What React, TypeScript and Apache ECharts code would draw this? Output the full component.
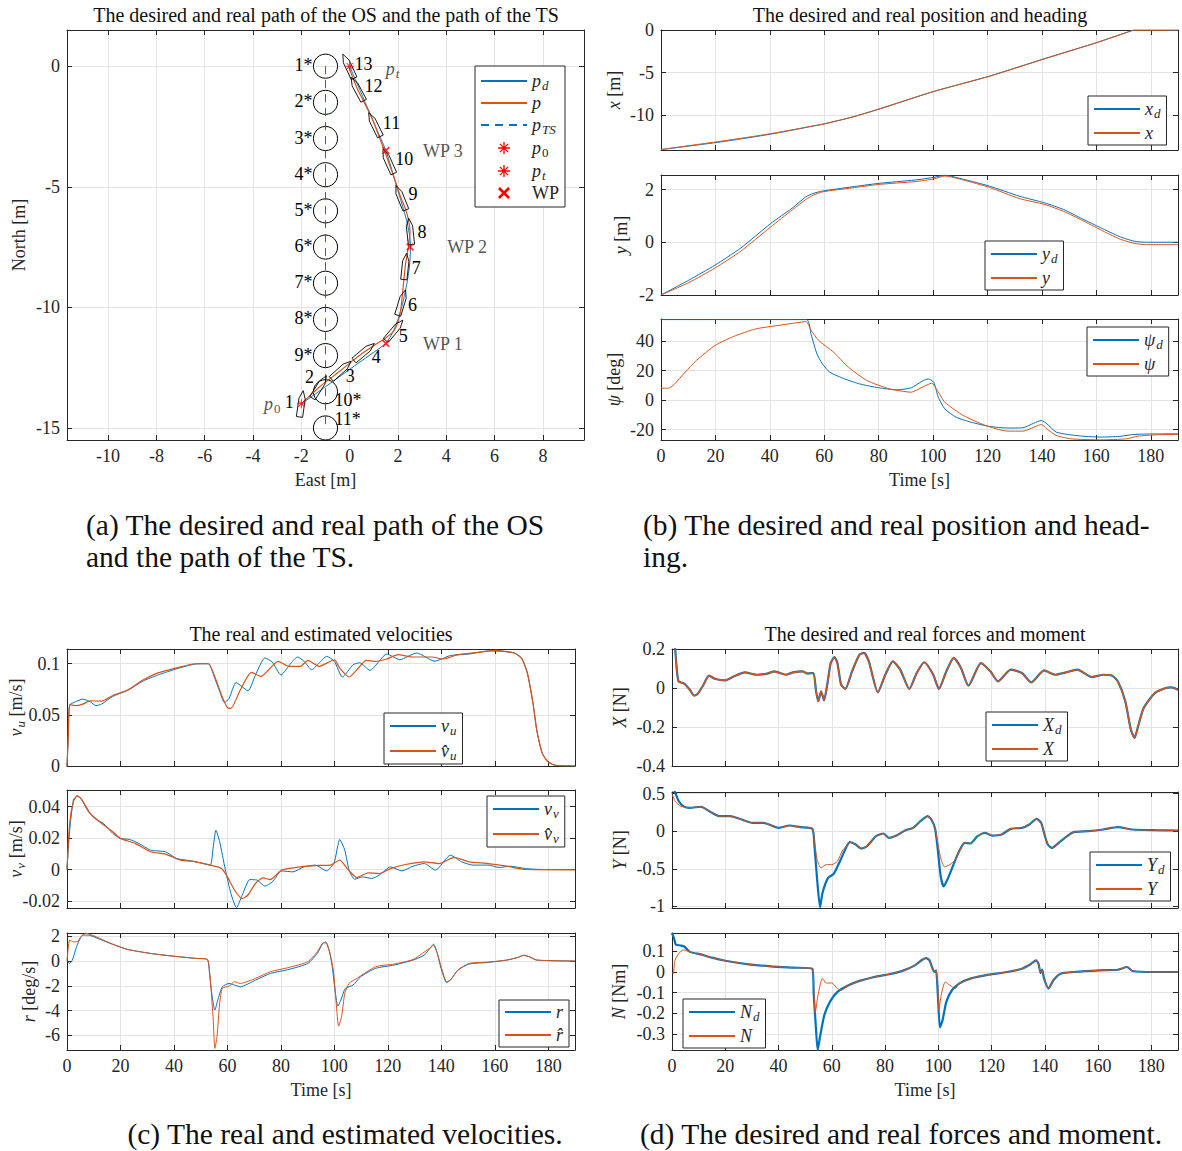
import React, { useEffect, useRef } from "react";
import * as echarts from "echarts";

const FONT = '"Liberation Serif", "DejaVu Serif", serif';
const BLUE = "#0072BD";
const ORANGE = "#D95319";
const RED = "#FF0000";
const INK = "#262626";
const GRID_COLOR = "#E3E3E3";

// ---------- (a) horizontal path: [east, north] in metres ----------
const pathDesired: [number, number][] = [
  [-2.0, -14.0], [-1.0, -13.29], [0.0, -12.57], [1.0, -11.86], [1.5, -11.5],
  [1.8, -11.0], [2.0, -10.5], [2.15, -10.0], [2.27, -9.5], [2.37, -9.0],
  [2.45, -8.5], [2.5, -8.0], [2.52, -7.5], [2.48, -7.0], [2.38, -6.5],
  [2.25, -6.0], [2.1, -5.5], [1.95, -5.0], [1.8, -4.5], [1.66, -4.0],
  [1.5, -3.5], [1.29, -3.0], [1.07, -2.5], [0.86, -2.0], [0.64, -1.5],
  [0.43, -1.0], [0.21, -0.5], [0.0, 0.0],
];
const pathReal: [number, number][] = [
  [-2.0, -14.0], [-1.6, -13.62], [-1.25, -13.3], [-0.8, -12.95], [-0.35, -12.6],
  [0.1, -12.23], [0.6, -11.85], [1.05, -11.55], [1.45, -11.3], [1.7, -11.1],
  [1.85, -10.95], [2.0, -10.6], [2.1, -10.2], [2.15, -9.8], [2.2, -9.3],
  [2.25, -8.8], [2.3, -8.3], [2.38, -7.8], [2.46, -7.3], [2.5, -6.85],
  [2.44, -6.4], [2.32, -5.95], [2.12, -5.45], [1.95, -4.95], [1.78, -4.45],
  [1.6, -3.95], [1.42, -3.45], [1.22, -2.93], [1.03, -2.42], [0.8, -1.9],
  [0.56, -1.42], [0.32, -0.95], [0.12, -0.45], [-0.02, -0.08], [-0.05, 0.0],
];
const targetTrack: [number, number][] = [[-1, 0], [-1, -15]];
const targetPositions: [number, number][] = [
  [-1, 0], [-1, -1.5], [-1, -3], [-1, -4.5], [-1, -6], [-1, -7.5],
  [-1, -9], [-1, -10.5], [-1, -12], [-1, -13.5], [-1, -15],
];
const TARGET_RADIUS = 0.5;
const startPoint: [number, number][] = [[-2, -14]];
const targetPoint: [number, number][] = [[0, 0]];
const waypoints = [
  { name: "WP 1", value: [1.5, -11.5] },
  { name: "WP 2", value: [2.5, -7.5] },
  { name: "WP 3", value: [1.5, -3.5] },
];
// own-ship snapshots: [east, north, heading deg]
const shipPoses: [number, number, number][] = [
  [-2.0, -14.0, 8], [-1.25, -13.3, 32], [-0.35, -12.6, 48], [0.6, -11.85, 50],
  [1.85, -10.95, 40], [2.15, -9.8, 17], [2.3, -8.3, 6], [2.5, -6.85, -6],
  [2.12, -5.45, -22], [1.6, -3.95, -24], [1.03, -2.42, -26], [0.32, -0.95, -28],
  [-0.05, 0.0, -25],
];

// ---------- (b) position and heading vs time ----------
const northDesired: [number, number][] = [
  [0, -14], [10, -13.6], [19.8, -13.2], [30, -12.72], [40.2, -12.2], [50, -11.62],
  [55, -11.3], [60, -11.0], [70.2, -10.2], [79.8, -9.3], [100.2, -7.2],
  [120.7, -5.4], [141, -3.35], [160.2, -1.46], [171.1, -0.28], [174, 0], [190, 0],
];
const northReal: [number, number][] = [
  [0, -14], [10, -13.55], [19.8, -13.12], [30, -12.65], [40.2, -12.14], [50, -11.58],
  [55, -11.28], [60, -10.98], [70.2, -10.2], [79.8, -9.28], [100.2, -7.2],
  [120.7, -5.42], [141, -3.37], [160.2, -1.48], [171.1, -0.3], [174, -0.02], [190, -0.02],
];
const eastDesired: [number, number][] = [
  [0, -2], [10.2, -1.44], [19.8, -0.87], [29.3, -0.22], [40.2, 0.7], [48.4, 1.31],
  [53.2, 1.72], [55.9, 1.85], [59.3, 1.94], [70.2, 2.1], [79.8, 2.23], [93.4, 2.36],
  [100.2, 2.46], [104.3, 2.54], [111.1, 2.39], [120.7, 2.13], [131.6, 1.75],
  [141.1, 1.49], [148, 1.24], [154.8, 0.89], [161.6, 0.55], [168.4, 0.22],
  [173.9, 0.04], [178, 0], [190, 0],
];
const eastReal: [number, number][] = [
  [0, -2], [10.2, -1.53], [19.8, -0.98], [29.3, -0.34], [40.2, 0.57], [48.4, 1.24],
  [53.2, 1.62], [55.9, 1.78], [59.3, 1.91], [70.2, 2.06], [79.8, 2.19], [93.4, 2.3],
  [100.2, 2.4], [104.3, 2.51], [111.1, 2.36], [120.7, 2.08], [131.6, 1.66],
  [141.1, 1.43], [148, 1.17], [154.8, 0.83], [161.6, 0.47], [168.4, 0.13],
  [173.9, -0.04], [178, -0.09], [190, -0.09],
];
const headingDesired: [number, number][] = [
  [0, 54.6], [53.5, 54.6], [55.2, 44.3], [57.3, 31.4], [59.3, 24.6], [62, 19],
  [67.5, 14.4], [73, 11], [80, 8.4], [86.6, 7], [92, 8.4], [96, 12.9], [98.2, 14.4],
  [100.2, 12.2], [101.9, 2], [104.3, -5.9], [108.4, -11.5], [113.9, -14.9],
  [120.7, -17.8], [127.5, -18.9], [133, -18.7], [137, -15.6], [139.8, -13.8],
  [141.8, -16], [145.2, -21.6], [149.3, -23.2], [154.8, -24.4], [161.6, -25],
  [168.4, -24.6], [172.5, -23.5], [176.6, -23], [190, -22.8],
];
const headingReal: [number, number][] = [
  [0, 8.1], [2.7, 8.1], [4.8, 10.6], [8.9, 19], [13, 26.9], [19.8, 37], [26.6, 43.1],
  [34.8, 48.3], [43, 50.6], [51.1, 52.8], [53.3, 53.3], [55.2, 47.2], [58, 40.4],
  [63.4, 32.5], [68.9, 22.3], [75.7, 13.3], [83.9, 7.7], [92, 5.4], [96, 8.8],
  [99.5, 11.5], [101.6, 6.5], [104.3, -1.4], [111.1, -10.4], [119.3, -17.2],
  [127.5, -21], [133, -21], [137.7, -17.8], [139.8, -16.5], [141.8, -19.4],
  [145.2, -23.9], [150.7, -26.2], [161.6, -26.9], [171.1, -26.2], [175.2, -24.4],
  [182, -23.5], [190, -23.2],
];

// ---------- (c) velocities ----------
const surgeReal: [number, number][] = [
  [0, 0], [0.5, 0.03], [1, 0.0595], [3.1, 0.0627], [5.9, 0.0654], [8.7, 0.0627],
  [10.8, 0.059], [12.9, 0.0605], [17.1, 0.068], [22.7, 0.074], [28.4, 0.083],
  [34, 0.089], [41, 0.095], [48, 0.0997], [52.9, 0.1], [55, 0.0876], [57.1, 0.073],
  [58.9, 0.0619], [60.6, 0.066], [63.2, 0.0816], [65.5, 0.0776], [67.7, 0.0734],
  [70.5, 0.089], [74, 0.1056], [76.8, 0.1016], [80, 0.089], [83.8, 0.1007],
  [86.2, 0.1066], [88.7, 0.1023], [91.5, 0.0941], [94.3, 0.1007], [97.1, 0.1072],
  [100, 0.1023], [103, 0.087], [107, 0.099], [109.5, 0.101], [113.3, 0.0935],
  [119.6, 0.1095], [124.5, 0.104], [130.8, 0.1105], [137.5, 0.1025], [143.4, 0.108],
  [150.5, 0.1095], [157.5, 0.1125], [163.1, 0.112], [167.3, 0.1105], [170.1, 0.1056],
  [172.2, 0.0907], [174.3, 0.0612], [175.7, 0.035], [177.8, 0.0121], [180, 0.0039],
  [182.7, 0.0007], [190, 0],
];
const surgeEst: [number, number][] = [
  [0, 0], [0.5, 0.03], [1, 0.06], [3.1, 0.059], [5.9, 0.0605], [8.7, 0.0637],
  [12.9, 0.0634], [17.1, 0.069], [22.7, 0.0743], [28.4, 0.084], [34, 0.091],
  [41, 0.096], [48, 0.1], [52.9, 0.1], [55.7, 0.0844], [57.8, 0.0694], [59.9, 0.0573],
  [61.3, 0.0563], [64.8, 0.0743], [69, 0.0915], [72.6, 0.0876], [75.4, 0.0941],
  [78.9, 0.1023], [83.1, 0.0974], [87.3, 0.0974], [90.1, 0.1033], [94.3, 0.0974],
  [100, 0.1039], [102, 0.0957], [105.5, 0.087], [108.4, 0.094], [111.9, 0.1033],
  [115.4, 0.1023], [119.6, 0.1046], [123.8, 0.1089], [129.4, 0.1066], [136.4, 0.1066],
  [140.6, 0.1046], [146.2, 0.1089], [154.7, 0.1114], [160.3, 0.113], [167.3, 0.1105],
  [170.1, 0.1046], [172.2, 0.0907], [174.3, 0.0612], [175.7, 0.035], [177.8, 0.0121],
  [180, 0.0039], [182.7, 0.0007], [190, 0],
];
const swayReal: [number, number][] = [
  [0, 0], [1, 0.025], [2.4, 0.0443], [3.8, 0.0468], [5.2, 0.0453], [8, 0.0368],
  [10.8, 0.0319], [13.6, 0.0294], [17.1, 0.023], [19.9, 0.0198], [23.4, 0.0191],
  [26.9, 0.0166], [31.2, 0.0123], [36.8, 0.0113], [41, 0.007], [46.6, 0.0055],
  [50.8, 0.0038], [53.6, 0.0028], [54.7, 0.0145], [55.7, 0.025], [57.1, 0.0177],
  [59.2, 0], [61.3, -0.0153], [63.4, -0.0243], [65.5, -0.0164], [68.4, -0.0064],
  [71.2, -0.0068], [74, -0.0106], [76.8, -0.0079], [80.3, -0.0009], [84.5, -0.0015],
  [88.7, 0.0017], [92.9, 0.0028], [97.1, -0.0009], [99.9, 0.0043], [102, 0.0191],
  [103.9, 0.0123], [105.5, -0.0004], [107.6, -0.0062], [110.5, -0.0047], [114, -0.0057],
  [116.8, -0.0036], [121, 0.0017], [125.2, -0.0009], [129.4, 0.0021], [133.6, 0.0038],
  [137.8, -0.0004], [143.4, 0.0091], [147.6, 0.0049], [151.8, 0.0028], [157.5, 0.0028],
  [161.7, 0.0013], [165.9, 0.0021], [171.5, 0.0006], [178.5, 0], [190, 0],
];
const swayEst: [number, number][] = [
  [0, 0], [1, 0.0294], [2.4, 0.0432], [3.8, 0.0468], [5.2, 0.0453], [8.7, 0.0357],
  [12.9, 0.0294], [17.1, 0.024], [19.9, 0.0198], [25.5, 0.0166], [31.2, 0.0113],
  [36.8, 0.0098], [42.4, 0.006], [48, 0.0049], [53.6, 0.0028], [57.8, 0.0006],
  [60, -0.0047], [62.7, -0.0132], [65.5, -0.0185], [67.6, -0.0164], [70.5, -0.0089],
  [73.3, -0.0053], [76, -0.0064], [80.3, -0.0004], [87.3, 0.0017], [94.3, 0.0026],
  [98.5, 0.0028], [102, 0.006], [104.8, 0.0006], [108.4, -0.0051], [112.6, -0.0021],
  [116.8, -0.0026], [121, 0.0006], [126.6, 0.0032], [133.6, 0.0049], [139.2, 0.0038],
  [144.8, 0.0077], [150.4, 0.0049], [157.5, 0.0038], [164.5, 0.0021], [171.5, 0],
  [190, -0.0002],
];
const yawRateReal: [number, number][] = [
  [0, 0], [1, -0.19], [2, 0.08], [3.8, 1.29], [5.9, 2.1], [8, 2.1], [11.5, 1.83],
  [17.1, 1.35], [22.7, 0.94], [31.2, 0.62], [39.6, 0.4], [48, 0.22], [52.5, 0.13],
  [53.3, -1.0], [54.3, -2.88], [55.3, -3.96], [56.4, -3.15], [58.1, -2.08],
  [60.6, -1.81], [62.7, -1.94], [64.8, -2.08], [70.5, -1.54], [76.1, -1.0],
  [83.1, -0.67], [90.1, -0.19], [93.6, 0.62], [95.7, 1.43], [96.8, 1.54], [98.2, 0.75],
  [99.2, -0.46], [100.4, -2.61], [101.3, -3.64], [102.7, -3.0], [104.1, -2.21],
  [107, -1.94], [109.8, -1.27], [115.4, -0.59], [122.4, -0.32], [129.4, 0.08],
  [133.6, 0.48], [136.4, 1.21], [137.1, 1.37], [138.5, 0.62], [139.9, -0.59],
  [142, -1.75], [143.4, -1.54], [146.2, -0.73], [150.4, -0.24], [157.5, -0.11],
  [164.5, 0.08], [168.7, 0.3], [170.8, 0.48], [172.9, 0.35], [175.7, 0.08], [190, 0],
];
const yawRateEst: [number, number][] = [
  [0, 0], [1, 1.7], [2.4, 1.56], [3.8, 1.56], [5.2, 1.97], [7, 2.25], [9.4, 2.1],
  [17.1, 1.37], [22.7, 0.94], [31.2, 0.62], [39.6, 0.4], [48, 0.22], [52.5, 0.13],
  [53.6, -1.54], [54.7, -4.77], [55.3, -7.06], [56.1, -6.12], [57.1, -3.42],
  [58.1, -2.21], [60.6, -2.02], [62.7, -1.67], [64.8, -1.81], [70.5, -1.4],
  [76.1, -0.86], [83.1, -0.51], [90.1, -0.05], [93.6, 0.75], [95.9, 1.48], [97.1, 1.43],
  [98.5, 0.48], [99.6, -0.73], [100.7, -3.42], [101.6, -5.26], [102.7, -4.5],
  [103.9, -2.61], [105.5, -1.81], [108.4, -1.4], [115.4, -0.46], [122.4, -0.24],
  [129.4, 0.13], [136.4, 1.16], [137.1, 1.32], [138.5, 0.62], [140.3, -0.73],
  [142, -1.67], [143.4, -1.54], [146.2, -0.73], [150.4, -0.19], [157.5, -0.08],
  [164.5, 0.08], [168.7, 0.3], [170.8, 0.45], [172.9, 0.35], [175.7, 0.08], [190, 0],
];

// ---------- (d) forces and moment ----------
const surgeForce: [number, number][] = [
  [0, 0.35], [1.2, 0.2], [1.8, 0.094], [2.5, 0.034], [4.6, 0.022], [6.7, -0.009],
  [8.3, -0.039], [9.7, -0.029], [11.5, 0.009], [13.9, 0.063], [16.4, 0.046],
  [19.8, 0.039], [23.3, 0.06], [27.4, 0.08], [31.6, 0.068], [35.8, 0.074],
  [38.5, 0.085], [42.7, 0.068], [45.5, 0.08], [48.9, 0.085], [51, 0.074], [53.1, 0.077],
  [54.1, -0.017], [54.9, -0.068], [56, -0.017], [57.1, -0.063], [58.2, 0.009],
  [59.6, 0.128], [61, 0.159], [62.1, 0.128], [63.5, 0.017], [65.1, -0.005],
  [67.6, 0.085], [70.4, 0.171], [72.1, 0.18], [73.9, 0.137], [77.3, -0.022],
  [80.1, 0.068], [82.9, 0.137], [85.7, 0.094], [89.1, -0.005], [91.9, 0.077],
  [94.7, 0.132], [98.1, 0.068], [100.2, -0.005], [103, 0.085], [105.8, 0.154],
  [108.5, 0.103], [111.3, 0.012], [116, 0.128], [119.6, 0.085], [122.4, 0.034],
  [127.2, 0.094], [131.4, 0.077], [134.9, 0.029], [139.7, 0.09], [143.9, 0.068],
  [148, 0.08], [152.2, 0.094], [157.7, 0.056], [161.9, 0.068], [165.3, 0.063],
  [167.4, 0.034], [170.2, -0.068], [172.3, -0.214], [173.7, -0.256], [175, -0.197],
  [177.1, -0.103], [181.3, -0.026], [185.4, 0], [187.5, 0.003], [190, -0.009],
];
const swayForceDesired: [number, number][] = [
  [0, 0.6], [1.1, 0.52], [2.5, 0.4], [4.2, 0.333], [6.7, 0.31], [10.8, 0.324],
  [15, 0.244], [17.7, 0.2], [21.9, 0.2], [26.1, 0.155], [30.2, 0.111], [34.4, 0.111],
  [39.9, 0.044], [44.1, 0.075], [48.2, 0.053], [52.7, 0.031], [53.5, -0.2],
  [54.5, -0.644], [55.6, -1.01], [56.5, -0.82], [58.6, -0.62], [60.7, -0.568],
  [62.8, -0.42], [65.6, -0.2], [66.9, -0.146], [69, -0.178], [71.1, -0.23],
  [73.2, -0.2], [76.6, -0.067], [79.4, -0.031], [81.5, -0.089], [84.3, -0.058],
  [87.7, 0.013], [90.5, 0.044], [93.3, 0.133], [96, 0.2], [97.4, 0.155], [98.8, 0.031],
  [99.8, -0.244], [100.9, -0.6], [102, -0.732], [103.7, -0.62], [105.7, -0.444],
  [107.8, -0.267], [109.9, -0.155], [112, -0.164], [114.7, -0.067], [117.5, -0.022],
  [120.3, -0.058], [123.8, -0.044], [127.2, 0.031], [131.4, 0.044], [134.2, 0.089],
  [136.9, 0.164], [138.6, 0.111], [139.7, -0.022], [141.1, -0.178], [142.7, -0.222],
  [145.2, -0.155], [148, -0.075], [150.8, -0.013], [156.3, 0], [161.9, 0.022],
  [167.4, 0.053], [172.9, 0.022], [181.3, 0.013], [190, 0.009],
];
const swayForceReal: [number, number][] = [
  [0, 0.5], [1.1, 0.4], [3.2, 0.333], [6.7, 0.31], [10.8, 0.324],
  [15, 0.244], [17.7, 0.2], [21.9, 0.2], [26.1, 0.155], [30.2, 0.111], [34.4, 0.111],
  [39.9, 0.044], [44.1, 0.075], [48.2, 0.053], [52.7, 0.031], [53.5, -0.133],
  [54.5, -0.377], [55.9, -0.488], [57.9, -0.444], [60, -0.444], [62.1, -0.4],
  [64.2, -0.244], [65.6, -0.2], [66.9, -0.146], [69, -0.178], [71.1, -0.23],
  [73.2, -0.2], [76.6, -0.067], [79.4, -0.031], [81.5, -0.089], [84.3, -0.058],
  [87.7, 0.013], [90.5, 0.044], [93.3, 0.133], [96, 0.2], [97.4, 0.155], [98.8, 0.031],
  [99.8, -0.155], [100.9, -0.355], [102.3, -0.475], [104.4, -0.444], [106.4, -0.377],
  [107.8, -0.267], [109.9, -0.155], [112, -0.164], [114.7, -0.067], [117.5, -0.022],
  [120.3, -0.058], [123.8, -0.044], [127.2, 0.031], [131.4, 0.044], [134.2, 0.089],
  [136.9, 0.164], [138.6, 0.111], [139.7, -0.022], [141.1, -0.178], [142.7, -0.222],
  [145.2, -0.155], [148, -0.075], [150.8, -0.013], [156.3, 0], [161.9, 0.022],
  [167.4, 0.053], [172.9, 0.022], [181.3, 0.013], [190, 0.009],
];
const yawMomentDesired: [number, number][] = [
  [0, 0.187], [0.8, 0.16], [1.4, 0.133], [3.2, 0.128], [4.6, 0.123], [6.7, 0.097],
  [10.8, 0.085], [15, 0.069], [20.5, 0.053], [28.8, 0.037], [37.1, 0.027],
  [45.5, 0.021], [52.7, 0.016], [53.2, -0.104], [54.1, -0.28], [54.7, -0.376],
  [55.7, -0.304], [57.2, -0.208], [59.3, -0.144], [62.1, -0.096], [66.3, -0.064],
  [70.4, -0.043], [75.9, -0.024], [81.5, -0.011], [87, 0.008], [91.2, 0.032],
  [94, 0.059], [95.4, 0.067], [96.7, 0.056], [98.1, 0.008], [98.8, 0], [99.2, 0.008],
  [99.8, -0.104], [100.6, -0.267], [101.6, -0.232], [103, -0.144], [105.1, -0.088],
  [107.8, -0.056], [112, -0.032], [118.9, -0.013], [125.8, 0], [131.4, 0.016],
  [134.9, 0.04], [136.7, 0.056], [137.6, 0.04], [138.4, -0.005], [139, 0.011],
  [139.7, -0.032], [141.4, -0.08], [143.2, -0.04], [145.9, -0.008], [150.8, 0],
  [160.5, 0.008], [167.4, 0.011], [170.9, 0.024], [172.9, 0.005], [181.3, 0], [190, 0],
];
const yawMomentReal: [number, number][] = [
  [0, 0], [0.5, -0.008], [1.1, 0.056], [2.5, 0.088], [4.2, 0.107], [6, 0.101],
  [8, 0.091], [10.8, 0.085], [15, 0.069], [20.5, 0.053], [28.8, 0.037], [37.1, 0.027],
  [45.5, 0.021], [52.7, 0.016], [53.2, -0.072], [53.8, -0.197], [54.7, -0.12],
  [55.9, -0.048], [56.5, -0.032], [57.9, -0.053], [60, -0.053], [62.1, -0.08],
  [63.5, -0.088], [66.3, -0.064], [70.4, -0.043], [75.9, -0.024], [81.5, -0.011],
  [87, 0.008], [91.2, 0.032], [94, 0.059], [95.4, 0.067], [96.7, 0.056], [98.1, 0.008],
  [98.8, 0], [99.2, 0.008], [99.8, -0.072], [100.2, -0.181], [101.2, -0.104],
  [102.6, -0.048], [104.4, -0.064], [106.4, -0.08], [107.8, -0.056], [112, -0.032],
  [118.9, -0.013], [125.8, 0], [131.4, 0.016], [134.9, 0.04], [136.7, 0.056],
  [137.6, 0.04], [138.4, -0.005], [139, 0.011], [139.7, -0.032], [141.4, -0.08],
  [143.2, -0.04], [145.9, -0.008], [150.8, 0], [160.5, 0.008], [167.4, 0.011],
  [170.9, 0.024], [172.9, 0.005], [181.3, 0], [190, 0],
];

// ---------- tick values ----------
const TIME_TICKS = [0, 20, 40, 60, 80, 100, 120, 140, 160, 180];
const EAST_TICKS = [-10, -8, -6, -4, -2, 0, 2, 4, 6, 8];
const NORTH_TICKS = [-15, -10, -5, 0];
const X_POS_TICKS = [-10, -5, 0];
const Y_POS_TICKS = [-2, 0, 2];
const HEADING_TICKS = [-20, 0, 20, 40];
const SURGE_TICKS = [0, 0.05, 0.1];
const SWAY_TICKS = [-0.02, 0, 0.02, 0.04];
const YAWRATE_TICKS = [-6, -4, -2, 0, 2];
const XFORCE_TICKS = [-0.4, -0.2, 0, 0.2];
const YFORCE_TICKS = [-1, -0.5, 0, 0.5];
const NMOMENT_TICKS = [-0.3, -0.2, -0.1, 0, 0.1];

// ---------- drawing helpers ----------
const SHIP_OUTLINE: [number, number][] = [
  [-0.55, -0.13], [0.22, -0.13], [0.55, 0], [0.22, 0.13], [-0.55, 0.13],
];
const SHIP_LABEL_OFFSET: [number, number][] = [
  [-12, -2], [-10, -10], [9, 6], [12, 5], [9, 6], [11, 2], [11, 2], [12, 1],
  [12, -4], [16, -2], [17, -2], [16, -3], [15, -2],
];
const TARGET_LABEL_PLACE = [
  ...Array.from({ length: 9 }, () => ({ align: "right", dx: -13, dy: -1 })),
  { align: "left", dx: 9, dy: 8 },
  { align: "left", dx: 9, dy: -9 },
];

const ASTERISK =
  "path://M4.45,0H5.55V10H4.45Z M0,4.45H10V5.55H0Z M1.2,1.95L1.95,1.2L8.8,8.05L8.05,8.8Z M8.05,1.2L8.8,1.95L1.95,8.8L1.2,8.05Z";
const CROSS =
  "path://M0,1.6L1.6,0L10,8.4L8.4,10Z M8.4,0L10,1.6L1.6,10L0,8.4Z";

const RICH: any = {
  i: { fontFamily: FONT, fontStyle: "italic", fontSize: 18, lineHeight: 20, color: INK },
  r: { fontFamily: FONT, fontSize: 18, lineHeight: 20, color: INK },
  s: { fontFamily: FONT, fontStyle: "italic", fontSize: 13, lineHeight: 20, color: INK, padding: [9, 0, 0, 1] },
  u: { fontFamily: FONT, fontSize: 13, lineHeight: 20, color: INK, padding: [9, 0, 0, 1] },
};

const LEGEND_TEXT: Record<string, string> = {
  pd: "{i|p}{s|d}", p: "{i|p}", pTS: "{i|p}{s|TS}", p0: "{i|p}{u|0}", pt: "{i|p}{s|t}", WP: "{r|WP}",
  xd: "{i|x}{s|d}", x: "{i|x}", yd: "{i|y}{s|d}", y: "{i|y}", psid: "{i|ψ}{s|d}", psi: "{i|ψ}",
  vu: "{i|v}{s|u}", vuh: "{i|v\u0302}{s|u}", vv: "{i|v}{s|v}", vvh: "{i|v\u0302}{s|v}",
  r: "{i|r}", rh: "{i|r\u0302}",
  Xd: "{i|X}{s|d}", X: "{i|X}", Yd: "{i|Y}{s|d}", Y: "{i|Y}", Nd: "{i|N}{s|d}", N: "{i|N}",
};
// legend entries drawn with their series marker (the rest show only the line)
const MARKER_ENTRIES = new Set(["p0", "pt", "WP"]);

const fmt = (v: number) => String(+(+v).toFixed(6));

function buildOption() {
  const grid: any[] = [];
  const xAxis: any[] = [];
  const yAxis: any[] = [];
  const series: any[] = [];
  const legend: any[] = [];
  const graphic: any[] = [];

  const axisText = { color: INK, fontFamily: FONT, fontSize: 18, lineHeight: 20, rich: RICH };

  const addPanel = (rect: any, spec: any) => {
    const g = grid.length;
    grid.push({ ...rect, containLabel: false, outerBoundsMode: "none" });
    const axLine = { show: true, onZero: false, lineStyle: { color: INK, width: 1 } };
    const tick = (vals: number[]) => ({ show: true, inside: true, length: 5, customValues: vals, lineStyle: { color: INK, width: 1 } });
    const label = (show: boolean, vals: number[]) => ({
      show, customValues: vals, color: INK, fontFamily: FONT, fontSize: 18, margin: 7, formatter: fmt,
    });
    xAxis.push({
      gridIndex: g, type: "value", position: "bottom", min: spec.x[0], max: spec.x[1],
      axisLine: axLine, axisTick: tick(spec.xt), axisLabel: label(!!spec.xName, spec.xt),
      splitLine: { show: true, lineStyle: { color: GRID_COLOR, width: 1 } },
      name: spec.xName || "", nameLocation: "middle", nameGap: 30, nameMoveOverlap: false, nameTextStyle: axisText,
    });
    xAxis.push({
      gridIndex: g, type: "value", position: "top", min: spec.x[0], max: spec.x[1],
      axisLine: axLine, axisTick: tick(spec.xt), axisLabel: { show: false }, splitLine: { show: false },
    });
    yAxis.push({
      gridIndex: g, type: "value", position: "left", min: spec.y[0], max: spec.y[1],
      axisLine: axLine, axisTick: tick(spec.yt), axisLabel: label(true, spec.yt),
      splitLine: { show: true, lineStyle: { color: GRID_COLOR, width: 1 } },
      name: spec.yName, nameLocation: "middle", nameGap: spec.yGap, nameRotate: 90,
      nameMoveOverlap: false, nameTextStyle: axisText,
    });
    yAxis.push({
      gridIndex: g, type: "value", position: "right", min: spec.y[0], max: spec.y[1],
      axisLine: axLine, axisTick: tick(spec.yt), axisLabel: { show: false }, splitLine: { show: false },
    });
    return 2 * g;
  };

  const line = (name: string, data: any, ax: number, color: string, width: number, extra: any = {}) => ({
    type: "line", name, data, xAxisIndex: ax, yAxisIndex: ax, symbol: "none", showSymbol: false,
    smooth: 0.2, lineStyle: { color, width }, itemStyle: { color }, silent: true, z: 3, ...extra,
  });

  const addLegend = (left: number, top: number, names: string[], itemGap = 3, padding: any = [2, 6, 2, 5]) => {
    legend.push({
      show: true, left, top, orient: "vertical", selectedMode: false,
      data: names.map((n) => (MARKER_ENTRIES.has(n) ? { name: n, itemStyle: { opacity: 1 } } : { name: n })),
      backgroundColor: "#ffffff", borderColor: INK, borderWidth: 1, borderRadius: 0, padding,
      itemWidth: 46, itemHeight: 12, itemGap, symbolKeepAspect: true,
      itemStyle: { opacity: 0 },
      formatter: (n: string) => LEGEND_TEXT[n] || n,
      textStyle: { color: INK, fontFamily: FONT, fontSize: 18, lineHeight: 20, rich: RICH },
    });
  };

  // ----- (a) -----
  const a = addPanel({ left: 67, top: 30, width: 517, height: 410 }, {
    x: [-11.7, 9.7], xt: EAST_TICKS, y: [-15.5, 1.5], yt: NORTH_TICKS,
    xName: "East [m]", yName: "North [m]", yGap: 38,
  });
  series.push({
    type: "custom", name: "targets", xAxisIndex: a, yAxisIndex: a, data: targetPositions, silent: true, z: 2,
    encode: { x: 0, y: 1 },
    renderItem: (params: any, api: any) => {
      const c = api.coord([api.value(0), api.value(1)]);
      const r = api.size([TARGET_RADIUS, 0])[0];
      const place = TARGET_LABEL_PLACE[params.dataIndex];
      return {
        type: "group",
        children: [
          { type: "circle", shape: { cx: c[0], cy: c[1], r }, style: { fill: "none", stroke: "#000", lineWidth: 1 } },
          {
            type: "text", x: c[0] + place.dx, y: c[1] + place.dy,
            style: {
              text: `${params.dataIndex + 1}*`, fill: "#000", font: `18px ${FONT}`,
              align: place.align, verticalAlign: "middle", textAlign: place.align, textVerticalAlign: "middle",
            },
          },
        ],
      };
    },
  });
  series.push(line("pTS", targetTrack, a, BLUE, 1, { smooth: false, lineStyle: { color: BLUE, width: 1, type: [8, 6] } }));
  series.push(line("pd", pathDesired, a, BLUE, 1, { smooth: 0.15 }));
  series.push(line("p", pathReal, a, ORANGE, 1.2, { smooth: 0.3 }));
  series.push({
    type: "custom", name: "ships", xAxisIndex: a, yAxisIndex: a, data: shipPoses, silent: true, z: 4,
    encode: { x: 0, y: 1 },
    renderItem: (params: any, api: any) => {
      const e = api.value(0), n = api.value(1), h = (api.value(2) * Math.PI) / 180;
      const fe = Math.sin(h), fn = Math.cos(h), se = Math.cos(h), sn = -Math.sin(h);
      const pts = SHIP_OUTLINE.map(([f, s]) => api.coord([e + f * fe + s * se, n + f * fn + s * sn]));
      const c = api.coord([e, n]);
      const off = SHIP_LABEL_OFFSET[params.dataIndex];
      return {
        type: "group",
        children: [
          { type: "polygon", shape: { points: pts }, style: { fill: "none", stroke: "#000", lineWidth: 0.9 } },
          {
            type: "text", x: c[0] + off[0], y: c[1] + off[1],
            style: {
              text: String(params.dataIndex + 1), fill: "#000", font: `18px ${FONT}`,
              align: "center", verticalAlign: "middle", textAlign: "center", textVerticalAlign: "middle",
            },
          },
        ],
      };
    },
  });
  const markerLabel = { show: true, position: "inside", color: INK, fontFamily: FONT, fontSize: 18, rich: RICH };
  series.push({
    type: "scatter", name: "p0", xAxisIndex: a, yAxisIndex: a, data: startPoint, symbol: ASTERISK, symbolSize: 9,
    itemStyle: { color: RED }, silent: true, z: 5,
    label: { ...markerLabel, offset: [-29, 0], formatter: "{i|p}{u|0}" },
  });
  series.push({
    type: "scatter", name: "pt", xAxisIndex: a, yAxisIndex: a, data: targetPoint, symbol: ASTERISK, symbolSize: 9,
    itemStyle: { color: RED }, silent: true, z: 5,
    label: { ...markerLabel, offset: [43, 3], formatter: "{i|p}{s|t}" },
  });
  series.push({
    type: "scatter", name: "WP", xAxisIndex: a, yAxisIndex: a, data: waypoints, symbol: CROSS, symbolSize: 8,
    itemStyle: { color: RED }, silent: true, z: 5,
    label: { ...markerLabel, offset: [57, 0], formatter: "{b}" },
  });
  addLegend(475, 66, ["pd", "p", "pTS", "p0", "pt", "WP"], 1, [4, 6, 4, 5]);

  // ----- (b) -----
  const b1 = addPanel({ left: 661, top: 30, width: 517, height: 120 }, {
    x: [0, 190], xt: TIME_TICKS, y: [-14.05, 0], yt: X_POS_TICKS, yName: "{i|x} [m]", yGap: 37,
  });
  series.push(line("xd", northDesired, b1, BLUE, 1));
  series.push(line("x", northReal, b1, ORANGE, 1));
  addLegend(1088, 96, ["xd", "x"]);

  const b2 = addPanel({ left: 661, top: 175, width: 517, height: 120 }, {
    x: [0, 190], xt: TIME_TICKS, y: [-2, 2.55], yt: Y_POS_TICKS, yName: "{i|y} [m]", yGap: 30,
  });
  series.push(line("yd", eastDesired, b2, BLUE, 1));
  series.push(line("y", eastReal, b2, ORANGE, 1));
  addLegend(985, 241, ["yd", "y"]);

  const b3 = addPanel({ left: 661, top: 319, width: 517, height: 121 }, {
    x: [0, 190], xt: TIME_TICKS, y: [-27, 55], yt: HEADING_TICKS, yName: "{i|ψ} [deg]", yGap: 37,
    xName: "Time [s]",
  });
  series.push(line("psid", headingDesired, b3, BLUE, 1));
  series.push(line("psi", headingReal, b3, ORANGE, 1));
  addLegend(1087, 327, ["psid", "psi"]);

  // ----- (c) -----
  const c1 = addPanel({ left: 67, top: 649, width: 508, height: 117 }, {
    x: [0, 190], xt: TIME_TICKS, y: [0, 0.1144], yt: SURGE_TICKS, yName: "{i|v}{s|u} [m/s]", yGap: 41,
  });
  series.push(line("vu", surgeReal, c1, BLUE, 1));
  series.push(line("vuh", surgeEst, c1, ORANGE, 1.2));
  addLegend(384, 713, ["vu", "vuh"]);

  const c2 = addPanel({ left: 67, top: 790, width: 508, height: 118 }, {
    x: [0, 190], xt: TIME_TICKS, y: [-0.0245, 0.0506], yt: SWAY_TICKS, yName: "{i|v}{s|v} [m/s]", yGap: 41,
  });
  series.push(line("vv", swayReal, c2, BLUE, 1));
  series.push(line("vvh", swayEst, c2, ORANGE, 1.2));
  addLegend(487, 796, ["vv", "vvh"]);

  const c3 = addPanel({ left: 67, top: 933, width: 508, height: 117 }, {
    x: [0, 190], xt: TIME_TICKS, y: [-7.19, 2.27], yt: YAWRATE_TICKS, yName: "{i|r} [deg/s]", yGap: 28,
    xName: "Time [s]",
  });
  series.push(line("r", yawRateReal, c3, BLUE, 1));
  series.push(line("rh", yawRateEst, c3, ORANGE, 1));
  addLegend(499, 1000, ["r", "rh"]);

  // ----- (d) -----
  const d1 = addPanel({ left: 672, top: 649, width: 506, height: 117 }, {
    x: [0, 190], xt: TIME_TICKS, y: [-0.4, 0.2], yt: XFORCE_TICKS, yName: "{i|X} [N]", yGap: 42,
  });
  series.push(line("Xd", surgeForce, d1, BLUE, 2.2));
  series.push(line("X", surgeForce, d1, ORANGE, 1.4));
  addLegend(986, 712, ["Xd", "X"]);

  const d2 = addPanel({ left: 672, top: 792, width: 506, height: 116 }, {
    x: [0, 190], xt: TIME_TICKS, y: [-1.02, 0.52], yt: YFORCE_TICKS, yName: "{i|Y} [N]", yGap: 42,
  });
  series.push(line("Yd", swayForceDesired, d2, BLUE, 2.2));
  series.push(line("Y", swayForceReal, d2, ORANGE, 1));
  addLegend(1090, 852, ["Yd", "Y"]);

  const d3 = addPanel({ left: 672, top: 933, width: 506, height: 117 }, {
    x: [0, 190], xt: TIME_TICKS, y: [-0.376, 0.188], yt: NMOMENT_TICKS, yName: "{i|N} [Nm]", yGap: 43,
    xName: "Time [s]",
  });
  series.push(line("Nd", yawMomentDesired, d3, BLUE, 2.2));
  series.push(line("N", yawMomentReal, d3, ORANGE, 1));
  addLegend(683, 999, ["Nd", "N"]);

  // ----- titles and captions -----
  const text = (x: number, y: number, t: string, size: number, align = "center") => ({
    type: "text", x, y, silent: true,
    style: {
      text: t, fill: "#111111", font: `${size}px ${FONT}`,
      align, verticalAlign: "middle", textAlign: align, textVerticalAlign: "middle",
    },
  });
  graphic.push(text(326, 15, "The desired and real path of the OS and the path of the TS", 20));
  graphic.push(text(920, 15, "The desired and real position and heading", 20));
  graphic.push(text(321, 634, "The real and estimated velocities", 20));
  graphic.push(text(925, 634, "The desired and real forces and moment", 20));
  graphic.push(text(86, 525, "(a) The desired and real path of the OS", 29.5, "left"));
  graphic.push(text(86, 557, "and the path of the TS.", 29.5, "left"));
  graphic.push(text(643, 525, "(b) The desired and real position and head-", 29.5, "left"));
  graphic.push(text(643, 557, "ing.", 29.5, "left"));
  graphic.push(text(345, 1134, "(c) The real and estimated velocities.", 29.5));
  graphic.push(text(901, 1134, "(d) The desired and real forces and moment.", 29.5));

  return {
    animation: false,
    backgroundColor: "#ffffff",
    textStyle: { fontFamily: FONT },
    grid, xAxis, yAxis, series, legend, graphic,
  };
}

export default function App() {
  const ref = useRef<HTMLDivElement>(null);
  useEffect(() => {
    if (!ref.current) return;
    const chart = echarts.init(ref.current, null, { renderer: "svg" });
    chart.setOption(buildOption() as any);
    return () => chart.dispose();
  }, []);
  return (
    <div
      ref={ref}
      style={{ position: "fixed", left: 0, top: 0, width: 1182, height: 1151, background: "#ffffff" }}
    />
  );
}
